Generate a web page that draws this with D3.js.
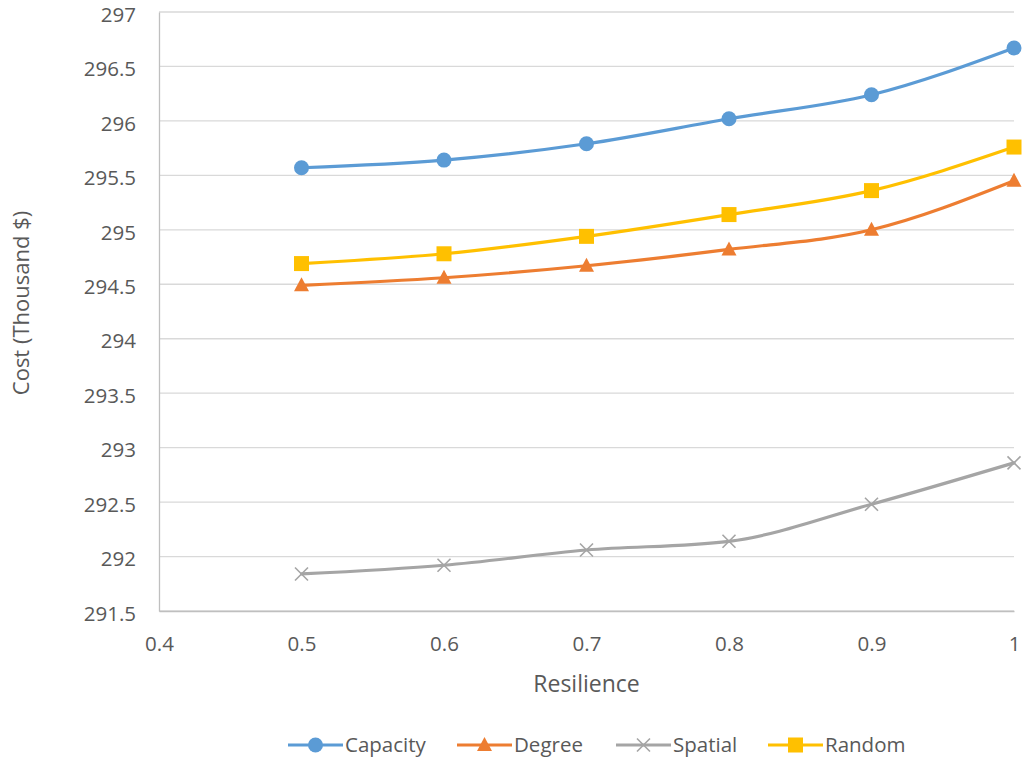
<!DOCTYPE html>
<html><head><meta charset="utf-8">
<script src="https://cdn.jsdelivr.net/npm/d3@7"></script>
<style>body{margin:0;background:#fff}text{font-family:"Open Sans",sans-serif;fill:#595959}</style>
</head><body><svg id="c" width="1023" height="763"></svg>
<script>
const resilience = [0.5, 0.6, 0.7, 0.8, 0.9, 1.0];
const capacity = [295.57, 295.64, 295.79, 296.02, 296.24, 296.67];
const degree = [294.49, 294.56, 294.67, 294.82, 295.00, 295.45];
const spatial = [291.84, 291.92, 292.06, 292.14, 292.48, 292.86];
const random = [294.69, 294.78, 294.94, 295.14, 295.36, 295.76];
const seriesNames = ["Capacity", "Degree", "Spatial", "Random"];
const xTicks = [0.4, 0.5, 0.6, 0.7, 0.8, 0.9, 1];
const yTicks = [291.5, 292, 292.5, 293, 293.5, 294, 294.5, 295, 295.5, 296, 296.5, 297];

const series = [
  {name: seriesNames[0], values: capacity, color: "#5B9BD5", marker: "circle"},
  {name: seriesNames[1], values: degree, color: "#ED7D31", marker: "triangle"},
  {name: seriesNames[2], values: spatial, color: "#A5A5A5", marker: "x"},
  {name: seriesNames[3], values: random, color: "#FFC000", marker: "square"}
];

const svg = d3.select("#c");
const x = d3.scaleLinear().domain([0.4, 1]).range([159, 1014]);
const y = d3.scaleLinear().domain([291.5, 297]).range([611, 12]);

// gridlines
svg.append("g").selectAll("line").data(yTicks).join("line")
  .attr("x1", x(0.4)).attr("x2", x(1)).attr("y1", d => y(d)).attr("y2", d => y(d))
  .attr("stroke", "#D9D9D9").attr("stroke-width", 1.3);

// axes
const yAxis = svg.append("g").attr("transform", `translate(${x(0.4)},0)`)
  .call(d3.axisLeft(y).tickValues(yTicks).tickSize(0).tickPadding(23).tickFormat(d => String(d)));
yAxis.selectAll("text").attr("dy", "0.45em");
const xAxis = svg.append("g").attr("transform", `translate(0,${y(291.5)})`)
  .call(d3.axisBottom(x).tickValues(xTicks).tickSize(0).tickPadding(26).tickFormat(d => String(d)));
xAxis.selectAll("text").attr("dy", "0.7em");
[yAxis, xAxis].forEach(a => {
  a.select(".domain").attr("stroke", "#BFBFBF").attr("stroke-width", 1.3);
  a.selectAll("text").style("font-size", "20.5px").attr("fill", "#595959");
});
xAxis.selectAll("text").attr("y", 24).attr("dy", "0");
xAxis.selectAll("text").attr("transform", "translate(0,16)");

// axis titles
svg.append("text").attr("x", x(0.7)).attr("y", 692).attr("text-anchor", "middle")
  .style("font-size", "23px").text("Resilience");
svg.append("text").attr("transform", `translate(29,303) rotate(-90)`).attr("text-anchor", "middle")
  .style("font-size", "22px").text("Cost (Thousand $)");

function drawMarker(g, type, color, cx, cy) {
  if (type === "circle") g.append("circle").attr("cx", cx).attr("cy", cy).attr("r", 7.5).attr("fill", color);
  else if (type === "square") g.append("rect").attr("x", cx - 7.5).attr("y", cy - 7.5).attr("width", 15).attr("height", 15).attr("fill", color);
  else if (type === "triangle") g.append("path").attr("d", `M${cx},${cy - 8}L${cx + 7.5},${cy + 6}L${cx - 7.5},${cy + 6}Z`).attr("fill", color);
  else if (type === "x") g.append("path").attr("d", `M${cx - 6.5},${cy - 6.5}L${cx + 6.5},${cy + 6.5}M${cx - 6.5},${cy + 6.5}L${cx + 6.5},${cy - 6.5}`)
    .attr("stroke", color).attr("stroke-width", 1.6).attr("fill", "none");
}

const line = d3.line().x((d, i) => x(resilience[i])).y(d => y(d)).curve(d3.curveMonotoneX);
series.forEach(s => {
  const g = svg.append("g");
  g.append("path").attr("d", line(s.values)).attr("fill", "none").attr("stroke", s.color)
    .attr("stroke-width", 3.2).attr("stroke-linecap", "round");
  s.values.forEach((v, i) => drawMarker(g, s.marker, s.color, x(resilience[i]), y(v)));
});

// legend
const legendX = [288, 457, 616, 768];
series.forEach((s, i) => {
  const g = svg.append("g");
  const lx = legendX[i], ly = 745;
  g.append("line").attr("x1", lx).attr("x2", lx + 55).attr("y1", ly).attr("y2", ly)
    .attr("stroke", s.color).attr("stroke-width", 3.2);
  drawMarker(g, s.marker, s.color, lx + 27.5, ly);
  g.append("text").attr("x", lx + 57).attr("y", 752).style("font-size", "20.5px").text(s.name);
});
</script></body></html>
